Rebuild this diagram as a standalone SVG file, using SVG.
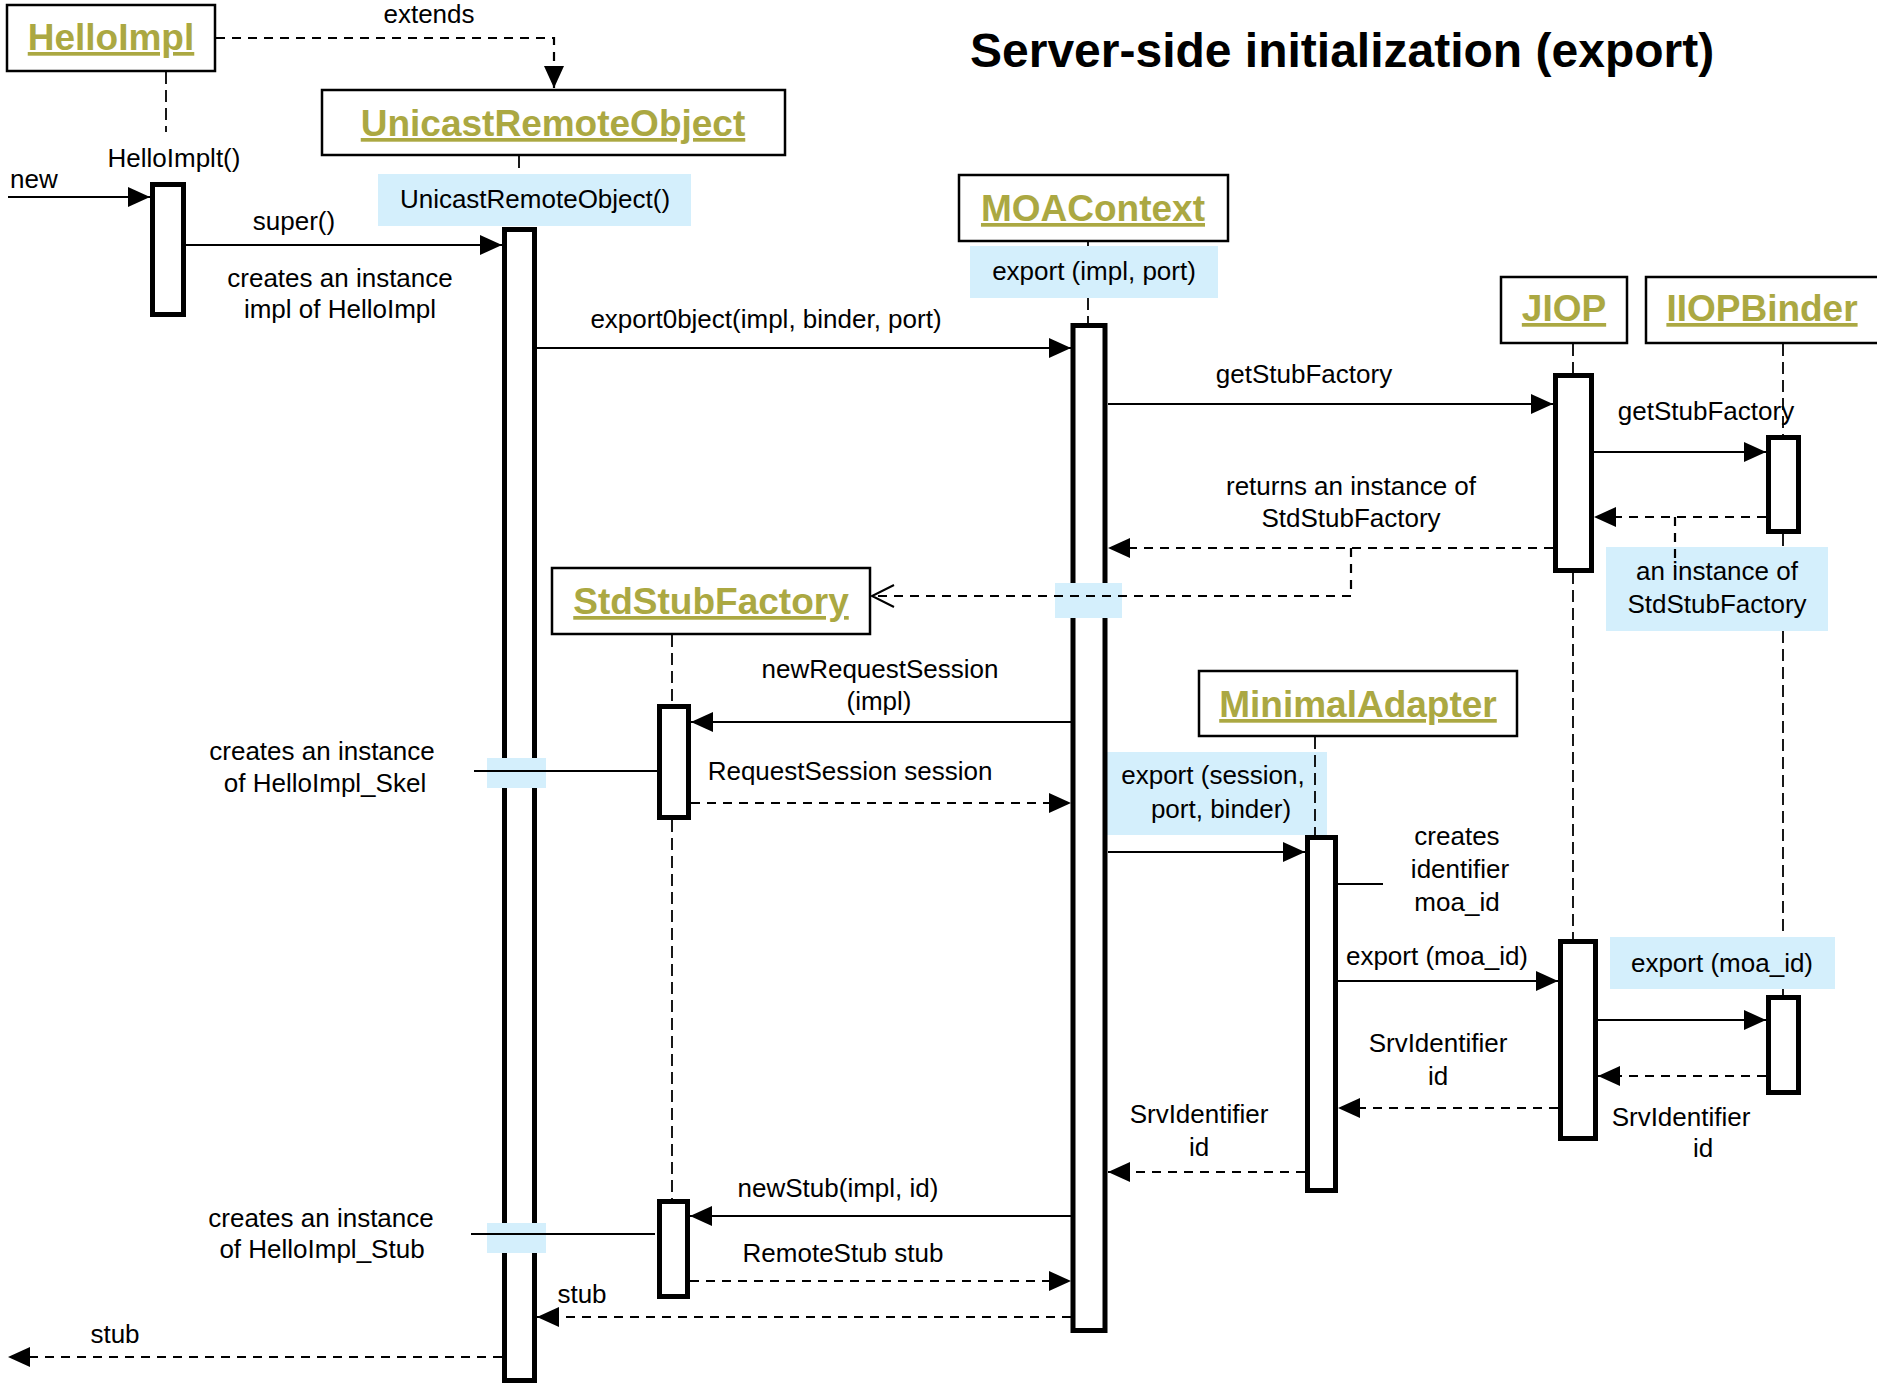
<svg xmlns="http://www.w3.org/2000/svg" width="1877" height="1384" viewBox="0 0 1877 1384">
  <defs>
    <style>
      .box { fill: #ffffff; stroke: #000000; stroke-width: 2.5; }
      .act { fill: #ffffff; stroke: #000000; stroke-width: 5; }
      .name { font-family: "Liberation Sans", Arial, Helvetica, sans-serif; font-weight: bold; font-size: 37px; fill: #ABA842; text-decoration: underline; text-anchor: middle; }
      .lbl { font-family: "Liberation Sans", Arial, Helvetica, sans-serif; font-size: 26px; fill: #000000; text-anchor: middle; }
      .title { font-family: "Liberation Sans", Arial, Helvetica, sans-serif; font-weight: bold; font-size: 48px; fill: #000000; }
      .note { fill: #D4EFFC; }
      .life { fill: none; stroke: #000000; stroke-width: 1.8; stroke-dasharray: 12 6; }
      .msg { fill: none; stroke: #000000; stroke-width: 2.2; }
      .ret { fill: none; stroke: #000000; stroke-width: 2.2; stroke-dasharray: 9 7; }
      .thin { fill: none; stroke: #000000; stroke-width: 2; }
    </style>
    <marker id="arrow" markerUnits="userSpaceOnUse" markerWidth="24" markerHeight="22" refX="22" refY="10" orient="auto">
      <path d="M0,0 L22,10 L0,20 Z" fill="#000000"/>
    </marker>
    <marker id="open" markerUnits="userSpaceOnUse" markerWidth="26" markerHeight="26" refX="23" refY="12" orient="auto">
      <path d="M1,1 L23,12 L1,23" fill="none" stroke="#000000" stroke-width="2"/>
    </marker>
  </defs>

  <rect x="0" y="0" width="1877" height="1384" fill="#ffffff"/>

  <!-- call labels with light-blue backgrounds -->
  <g id="notes">
    <rect class="note" x="378" y="174" width="313" height="52"/>
    <text class="lbl" x="535" y="208">UnicastRemoteObject()</text>
    <rect class="note" x="970" y="246" width="248" height="52"/>
    <text class="lbl" x="1094" y="280">export (impl, port)</text>
    <rect class="note" x="1606" y="547" width="222" height="84"/>
    <text class="lbl" x="1717" y="580">an instance of</text>
    <text class="lbl" x="1717" y="613">StdStubFactory</text>
    <rect class="note" x="1107" y="752" width="220" height="83"/>
    <text class="lbl" x="1213" y="784">export (session,</text>
    <text class="lbl" x="1221" y="818">port, binder)</text>
    <rect class="note" x="1610" y="937" width="225" height="52"/>
    <text class="lbl" x="1722" y="972">export (moa_id)</text>
  </g>

  <!-- HelloImpl -->
  <g id="HelloImpl">
    <rect class="box" x="7" y="5" width="208" height="66"/>
    <text class="name" x="111" y="50">HelloImpl</text>
    <path class="life" d="M166,72 V132"/>
    <rect class="act" x="152.5" y="184.5" width="31" height="130"/>
  </g>

  <!-- UnicastRemoteObject -->
  <g id="UnicastRemoteObject">
    <rect class="box" x="322" y="90" width="463" height="65"/>
    <text class="name" x="553" y="136">UnicastRemoteObject</text>
    <path class="life" d="M519,156 V174"/>
    <rect class="act" x="504.5" y="229.5" width="30" height="1151"/>
  </g>

  <!-- MOAContext -->
  <g id="MOAContext">
    <rect class="box" x="959" y="175" width="269" height="66"/>
    <text class="name" x="1093" y="221">MOAContext</text>
    <path class="life" d="M1088,242 V246 M1088,298 V323"/>
    <rect class="act" x="1073" y="325.5" width="32" height="1005"/>
  </g>

  <!-- JIOP -->
  <g id="JIOP">
    <rect class="box" x="1501" y="277" width="126" height="66"/>
    <text class="name" x="1564" y="321">JIOP</text>
    <path class="life" d="M1573,344 V373 M1573,572 V939"/>
    <rect class="act" x="1555.5" y="375.5" width="36" height="195"/>
    <rect class="act" x="1560.5" y="941.5" width="35" height="197"/>
  </g>

  <!-- IIOPBinder -->
  <g id="IIOPBinder">
    <rect class="box" x="1646" y="277" width="245" height="66"/>
    <text class="name" x="1762" y="321">IIOPBinder</text>
    <path class="life" d="M1783,344 V435 M1783,534 V547 M1783,631 V937 M1783,989 V995"/>
    <rect class="act" x="1768.5" y="437.5" width="30" height="94"/>
    <rect class="act" x="1768.5" y="997.5" width="30" height="95"/>
  </g>

  <!-- StdStubFactory -->
  <g id="StdStubFactory">
    <rect class="box" x="552" y="568" width="318" height="66"/>
    <text class="name" x="711" y="614">StdStubFactory</text>
    <path class="life" d="M672,635 V704 M672,820 V1199"/>
    <rect class="act" x="659.5" y="706.5" width="29" height="111"/>
    <rect class="act" x="659.5" y="1201.5" width="28" height="95"/>
  </g>

  <!-- MinimalAdapter -->
  <g id="MinimalAdapter">
    <rect class="box" x="1199" y="671" width="318" height="65"/>
    <text class="name" x="1358" y="717">MinimalAdapter</text>
    <path class="life" d="M1315,737 V835"/>
    <rect class="act" x="1307.5" y="837.5" width="28" height="353"/>
  </g>

  <!-- messages -->
  <g id="connectors">
    <!-- empty label backgrounds lying over activation bars -->
    <rect class="note" x="1055" y="583" width="67" height="35"/>
    <rect class="note" x="487" y="758" width="59" height="30"/>
    <rect class="note" x="487" y="1223" width="59" height="30"/>

    <path class="ret" d="M216,38 H554 V88" marker-end="url(#arrow)"/>
    <path class="msg" d="M8,197 H150" marker-end="url(#arrow)"/>
    <path class="msg" d="M186,245 H502" marker-end="url(#arrow)"/>
    <path class="msg" d="M537,348 H1071" marker-end="url(#arrow)"/>
    <path class="msg" d="M1108,404 H1553" marker-end="url(#arrow)"/>
    <path class="msg" d="M1594,452 H1766" marker-end="url(#arrow)"/>
    <path class="ret" d="M1766,517 H1594" marker-end="url(#arrow)"/>
    <path class="ret" d="M1675,517 V567"/>
    <path class="ret" d="M1553,548 H1108" marker-end="url(#arrow)"/>
    <path class="ret" d="M1351,548 V596 H872" marker-end="url(#open)"/>
    <path class="msg" d="M1071,722 H691" marker-end="url(#arrow)"/>
    <path class="ret" d="M691,803 H1071" marker-end="url(#arrow)"/>
    <path class="thin" d="M474,771 H657"/>
    <path class="msg" d="M1108,852 H1305" marker-end="url(#arrow)"/>
    <path class="thin" d="M1338,884 H1383"/>
    <path class="msg" d="M1338,981 H1558" marker-end="url(#arrow)"/>
    <path class="msg" d="M1598,1020 H1766" marker-end="url(#arrow)"/>
    <path class="ret" d="M1766,1076 H1598" marker-end="url(#arrow)"/>
    <path class="ret" d="M1558,1108 H1338" marker-end="url(#arrow)"/>
    <path class="ret" d="M1305,1172 H1108" marker-end="url(#arrow)"/>
    <path class="msg" d="M1071,1216 H690" marker-end="url(#arrow)"/>
    <path class="ret" d="M690,1281 H1071" marker-end="url(#arrow)"/>
    <path class="thin" d="M471,1234 H655"/>
    <path class="ret" d="M1071,1317 H537" marker-end="url(#arrow)"/>
    <path class="ret" d="M502,1357 H8" marker-end="url(#arrow)"/>
  </g>

  <!-- message texts -->
  <g id="labels">
    <text class="lbl" x="429" y="23">extends</text>
    <text class="lbl" x="174" y="167">HelloImplt()</text>
    <text class="lbl" x="10" y="188" style="text-anchor:start">new</text>
    <text class="lbl" x="294" y="230">super()</text>
    <text class="lbl" x="340" y="287">creates an instance</text>
    <text class="lbl" x="340" y="318">impl of HelloImpl</text>
    <text class="lbl" x="766" y="328">export0bject(impl, binder, port)</text>
    <text class="lbl" x="1304" y="383">getStubFactory</text>
    <text class="lbl" x="1706" y="420">getStubFactory</text>
    <text class="lbl" x="1351" y="495">returns an instance of</text>
    <text class="lbl" x="1351" y="527">StdStubFactory</text>
    <text class="lbl" x="880" y="678">newRequestSession</text>
    <text class="lbl" x="879" y="710">(impl)</text>
    <text class="lbl" x="850" y="780">RequestSession session</text>
    <text class="lbl" x="322" y="760">creates an instance</text>
    <text class="lbl" x="325" y="792">of HelloImpl_Skel</text>
    <text class="lbl" x="1457" y="845">creates</text>
    <text class="lbl" x="1460" y="878">identifier</text>
    <text class="lbl" x="1457" y="911">moa_id</text>
    <text class="lbl" x="1437" y="965">export (moa_id)</text>
    <text class="lbl" x="1438" y="1052">SrvIdentifier</text>
    <text class="lbl" x="1438" y="1085">id</text>
    <text class="lbl" x="1681" y="1126">SrvIdentifier</text>
    <text class="lbl" x="1703" y="1157">id</text>
    <text class="lbl" x="1199" y="1123">SrvIdentifier</text>
    <text class="lbl" x="1199" y="1156">id</text>
    <text class="lbl" x="838" y="1197">newStub(impl, id)</text>
    <text class="lbl" x="843" y="1262">RemoteStub stub</text>
    <text class="lbl" x="321" y="1227">creates an instance</text>
    <text class="lbl" x="322" y="1258">of HelloImpl_Stub</text>
    <text class="lbl" x="582" y="1303">stub</text>
    <text class="lbl" x="115" y="1343">stub</text>
  </g>

  <text class="title" x="970" y="67">Server-side initialization (export)</text>
</svg>
